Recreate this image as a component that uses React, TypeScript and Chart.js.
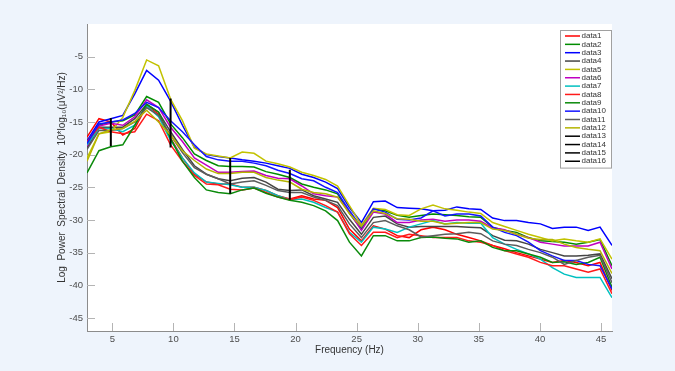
import React, { useEffect, useRef } from 'react';
import { Chart, registerables } from 'chart.js';

Chart.register(...registerables);

// Frequencies (Hz) of the spectral bins
const freqs = [2.93, 3.91, 4.88, 5.86, 6.84, 7.81, 8.79, 9.77, 10.74, 11.72, 12.70, 13.67, 14.65, 15.63, 16.60, 17.58, 18.55, 19.53, 20.51, 21.48, 22.46, 23.44, 24.41, 25.39, 26.37, 27.34, 28.32, 29.30, 30.27, 31.25, 32.23, 33.20, 34.18, 35.16, 36.13, 37.11, 38.09, 39.06, 40.04, 41.02, 41.99, 42.97, 43.95, 44.92, 45.90];

const data1 = [-17.3, -14.5, -15.0, -17.0, -16.0, -12.5, -13.8, -17.5, -20.5, -23.0, -24.2, -24.5, -24.5, -25.0, -25.0, -25.5, -26.3, -26.8, -26.3, -26.8, -27.0, -28.1, -31.4, -33.2, -30.9, -31.4, -32.4, -32.7, -31.5, -31.1, -31.5, -32.2, -32.7, -33.2, -33.9, -34.4, -35.0, -35.5, -36.0, -36.5, -36.2, -36.5, -37.0, -36.5, -40.8];
const data2 = [-18.9, -15.5, -15.0, -14.8, -13.9, -11.1, -12.0, -15.3, -17.4, -19.9, -20.9, -21.7, -21.8, -21.8, -21.9, -22.6, -23.0, -23.5, -24.5, -25.0, -25.4, -26.0, -29.0, -31.4, -28.3, -28.6, -29.3, -29.6, -29.3, -29.1, -29.2, -29.3, -29.5, -29.6, -31.1, -31.6, -31.9, -32.7, -33.2, -33.3, -33.4, -33.7, -33.4, -33.0, -37.0];
const data3 = [-17.9, -15.0, -14.5, -14.0, -10.7, -7.1, -8.6, -11.8, -15.5, -18.9, -20.0, -20.3, -20.5, -20.8, -21.0, -21.3, -21.7, -22.1, -23.0, -23.5, -24.2, -25.2, -28.1, -30.4, -27.2, -27.1, -28.1, -28.2, -28.3, -28.6, -28.5, -28.0, -28.3, -28.4, -29.7, -30.1, -30.1, -30.4, -30.6, -31.3, -31.1, -31.1, -31.6, -31.1, -33.9];
const data4 = [-19.0, -15.8, -15.8, -15.8, -14.5, -12.3, -13.5, -16.5, -19.2, -21.7, -23.0, -23.7, -24.0, -23.6, -23.5, -24.2, -25.3, -25.5, -25.4, -26.3, -26.8, -27.3, -29.9, -32.2, -29.6, -29.4, -30.6, -31.1, -31.0, -31.0, -31.0, -31.0, -31.1, -31.2, -32.4, -33.1, -33.2, -33.7, -34.5, -35.0, -35.5, -35.5, -35.4, -35.2, -39.0];
const data5 = [-20.5, -16.8, -16.5, -14.3, -10.2, -5.5, -6.4, -11.5, -14.8, -19.0, -19.9, -20.2, -20.5, -19.6, -19.8, -21.0, -21.4, -21.9, -22.7, -23.2, -23.8, -24.8, -27.8, -30.8, -28.2, -28.4, -29.2, -29.3, -28.3, -27.7, -28.3, -28.5, -28.8, -29.0, -30.4, -31.0, -31.6, -32.2, -32.7, -33.2, -32.9, -33.2, -33.4, -32.9, -36.0];
const data6 = [-18.7, -15.6, -15.2, -15.5, -14.2, -11.6, -12.8, -15.8, -18.0, -20.5, -21.6, -22.7, -22.7, -22.6, -22.5, -23.2, -23.6, -23.7, -24.8, -26.0, -26.3, -26.5, -28.8, -31.6, -28.8, -29.1, -30.4, -30.4, -30.0, -29.9, -30.2, -30.0, -30.0, -30.2, -31.2, -31.5, -32.2, -32.7, -33.4, -33.7, -34.0, -34.0, -34.0, -33.4, -37.5];
const data7 = [-18.5, -16.0, -16.0, -16.5, -15.5, -12.5, -14.2, -17.8, -20.5, -22.8, -24.2, -24.4, -24.6, -25.0, -25.0, -25.5, -26.3, -26.9, -26.8, -27.3, -28.1, -28.8, -31.9, -33.4, -31.1, -31.4, -31.9, -31.1, -30.6, -30.1, -30.6, -30.4, -30.5, -30.5, -32.7, -33.7, -34.5, -35.2, -36.0, -37.3, -38.3, -38.8, -38.8, -38.8, -41.9];
const data8 = [-18.0, -15.8, -16.5, -16.8, -16.5, -13.8, -14.8, -18.5, -21.0, -23.2, -24.5, -24.6, -25.3, -25.4, -25.1, -25.8, -26.5, -26.9, -26.5, -27.0, -27.8, -28.8, -32.1, -33.9, -31.9, -31.9, -32.7, -32.2, -32.4, -32.7, -32.7, -32.7, -33.2, -33.4, -33.9, -34.7, -35.2, -35.7, -36.5, -37.0, -37.0, -37.5, -38.0, -37.5, -41.3];
const data9 = [-22.8, -19.4, -18.8, -18.5, -15.5, -12.3, -13.5, -17.5, -21.0, -23.5, -25.4, -25.8, -26.0, -25.4, -25.1, -25.9, -26.5, -27.0, -27.3, -27.8, -28.6, -30.1, -33.4, -35.5, -32.4, -32.4, -33.2, -33.2, -32.7, -32.6, -32.8, -32.9, -33.4, -33.2, -34.2, -34.7, -34.7, -35.2, -35.7, -36.5, -36.4, -36.8, -36.5, -35.7, -40.3];
const data10 = [-18.3, -15.3, -15.0, -14.7, -13.7, -12.0, -12.8, -14.8, -16.5, -18.5, -20.3, -20.8, -21.0, -21.0, -21.3, -21.7, -22.4, -22.9, -23.7, -24.0, -25.0, -25.8, -28.6, -31.1, -28.3, -28.8, -29.9, -30.0, -29.7, -28.6, -29.4, -29.1, -29.1, -29.4, -31.1, -31.9, -32.4, -33.4, -34.7, -35.5, -36.2, -36.2, -36.8, -37.0, -40.6];
const data11 = [-19.2, -16.3, -16.3, -16.0, -15.0, -12.8, -14.0, -17.0, -19.7, -22.0, -23.0, -23.7, -24.5, -24.2, -24.0, -24.7, -25.5, -25.8, -25.8, -26.5, -27.0, -27.8, -30.6, -32.7, -30.4, -30.1, -30.9, -31.5, -32.6, -32.4, -32.2, -32.1, -31.9, -32.1, -33.2, -33.7, -33.9, -34.5, -35.0, -35.7, -36.8, -36.2, -35.7, -35.4, -39.6];
const data12 = [-21.0, -16.8, -16.2, -16.0, -14.9, -13.2, -15.0, -17.0, -19.4, -20.9, -22.2, -22.9, -22.9, -22.7, -22.7, -23.5, -23.9, -24.2, -25.3, -25.8, -26.0, -26.5, -29.0, -31.0, -28.6, -29.0, -29.8, -29.9, -30.2, -30.2, -30.6, -30.5, -30.4, -30.4, -31.4, -31.6, -32.2, -32.8, -33.0, -33.0, -33.7, -34.2, -34.5, -34.7, -38.2];

// Vertical range bars (data13..data16)
const barFreqs = [4.88, 9.77, 14.65, 19.53];
const barTop = [-14.4, -11.4, -20.5, -22.3];
const barBottom = [-18.7, -18.9, -26.0, -26.9];

const seriesValues = [data1, data2, data3, data4, data5, data6, data7, data8, data9, data10, data11, data12];
const seriesColors = ['#FF0000', '#008C00', '#0000FF', '#454545', '#C2C200', '#C000C0', '#00C0C0', '#FF1A1A', '#0A8A0A', '#1414FF', '#5C5C5C', '#B5B500'];
const barColor = '#000000';
const seriesNames = ['data1', 'data2', 'data3', 'data4', 'data5', 'data6', 'data7', 'data8', 'data9', 'data10', 'data11', 'data12', 'data13', 'data14', 'data15', 'data16'];

const xTicks = [5, 10, 15, 20, 25, 30, 35, 40, 45];
const yTicks = [-45, -40, -35, -30, -25, -20, -15, -10, -5];

const FONT = "'Liberation Sans', Arial, Helvetica, sans-serif";

const framePlugin = {
  id: 'framePlugin',
  beforeDraw(chart: any) {
    const { ctx, chartArea: a, width, height } = chart;
    ctx.save();
    ctx.fillStyle = '#EEF4FC';
    ctx.fillRect(0, 0, width, height);
    ctx.fillStyle = '#FFFFFF';
    ctx.fillRect(a.left, a.top, a.right - a.left, a.bottom - a.top);
    ctx.restore();
  },
  beforeDatasetsDraw(chart: any) {
    const { ctx, chartArea: a, scales } = chart;
    ctx.save();
    ctx.strokeStyle = '#B4B4B4';
    ctx.lineWidth = 1;
    ctx.beginPath();
    for (const v of xTicks) {
      const px = Math.round(scales.x.getPixelForValue(v)) + 0.5;
      ctx.moveTo(px, a.bottom);
      ctx.lineTo(px, a.bottom - 8);
    }
    for (const v of yTicks) {
      const py = Math.round(scales.y.getPixelForValue(v)) + 0.5;
      ctx.moveTo(a.left, py);
      ctx.lineTo(a.left + 8, py);
    }
    ctx.stroke();
    ctx.restore();
  },
  afterDraw(chart: any) {
    const { ctx, chartArea: a } = chart;
    const ds = chart.data.datasets;
    const bx = a.right - 52;
    const by = a.top + 6;
    const bw = 51;
    const rowH = 8.35;
    const bh = ds.length * rowH + 4;
    ctx.save();
    ctx.fillStyle = '#FFFFFF';
    ctx.fillRect(bx, by, bw, bh);
    ctx.strokeStyle = '#A0A0A0';
    ctx.lineWidth = 1;
    ctx.strokeRect(bx + 0.5, by + 0.5, bw, bh);
    ctx.font = `8px ${FONT}`;
    ctx.textBaseline = 'middle';
    ctx.textAlign = 'left';
    ds.forEach((d: any, i: number) => {
      const y = by + 6 + i * rowH;
      ctx.strokeStyle = d.borderColor;
      ctx.lineWidth = 1.5;
      ctx.beginPath();
      ctx.moveTo(bx + 5, y);
      ctx.lineTo(bx + 20, y);
      ctx.stroke();
      ctx.fillStyle = '#333333';
      ctx.fillText(d.label, bx + 21.5, y);
    });
    ctx.restore();
  },
};

export default function App() {
  const ref = useRef<HTMLCanvasElement | null>(null);

  useEffect(() => {
    if (!ref.current) return;
    const datasets: any[] = [];
    seriesValues.forEach((vals, i) => {
      datasets.push({
        label: seriesNames[i],
        data: freqs.map((f, j) => ({ x: f, y: vals[j] })),
        borderColor: seriesColors[i],
        backgroundColor: seriesColors[i],
        borderWidth: 1.5,
        pointRadius: 0,
        tension: 0,
        fill: false,
        order: 20 - i,
      });
    });
    barFreqs.forEach((f, k) => {
      datasets.push({
        label: seriesNames[12 + k],
        data: [{ x: f, y: barTop[k] }, { x: f, y: barBottom[k] }],
        borderColor: barColor,
        backgroundColor: barColor,
        borderWidth: 2,
        pointRadius: 0,
        fill: false,
        order: 4 - k,
      });
    });

    const chart = new Chart(ref.current, {
      type: 'line',
      data: { datasets },
      options: {
        responsive: false,
        animation: false,
        layout: { padding: { top: 24, right: 63, left: 0, bottom: 0 } },
        plugins: { legend: { display: false }, tooltip: { enabled: false } },
        scales: {
          x: {
            type: 'linear',
            min: 2.93,
            max: 45.9,
            afterBuildTicks: (s: any) => { s.ticks = xTicks.map((v) => ({ value: v })); },
            afterFit: (s: any) => { s.height = 40; },
            grid: { display: false, drawTicks: false, tickLength: 0 },
            border: { display: true, color: '#8C8C8C', width: 1 },
            ticks: { color: '#4D4D4D', font: { size: 9.5, family: FONT }, padding: 3, maxRotation: 0, autoSkip: false },
            title: { display: true, text: 'Frequency (Hz)', color: '#333333', font: { size: 10, family: FONT }, padding: { top: 0, bottom: 15 } },
          },
          y: {
            type: 'linear',
            min: -47,
            max: 0,
            afterBuildTicks: (s: any) => { s.ticks = yTicks.map((v) => ({ value: v })); },
            afterFit: (s: any) => { s.width = 87; },
            grid: { display: false, drawTicks: false, tickLength: 0 },
            border: { display: true, color: '#8C8C8C', width: 1 },
            ticks: { color: '#4D4D4D', font: { size: 9.5, family: FONT }, padding: 4 },
            title: { display: true, text: 'Log  Power  Spectral  Density  10*log₁₀(μV²/Hz)', color: '#333333', font: { size: 10, family: FONT }, padding: { top: 56, bottom: 0 } },
          },
        },
      },
      plugins: [framePlugin],
    } as any);
    return () => chart.destroy();
  }, []);

  return (
    <div style={{ position: 'fixed', left: 0, top: 0, width: 675, height: 371 }}>
      <canvas ref={ref} width={675} height={371} />
    </div>
  );
}
